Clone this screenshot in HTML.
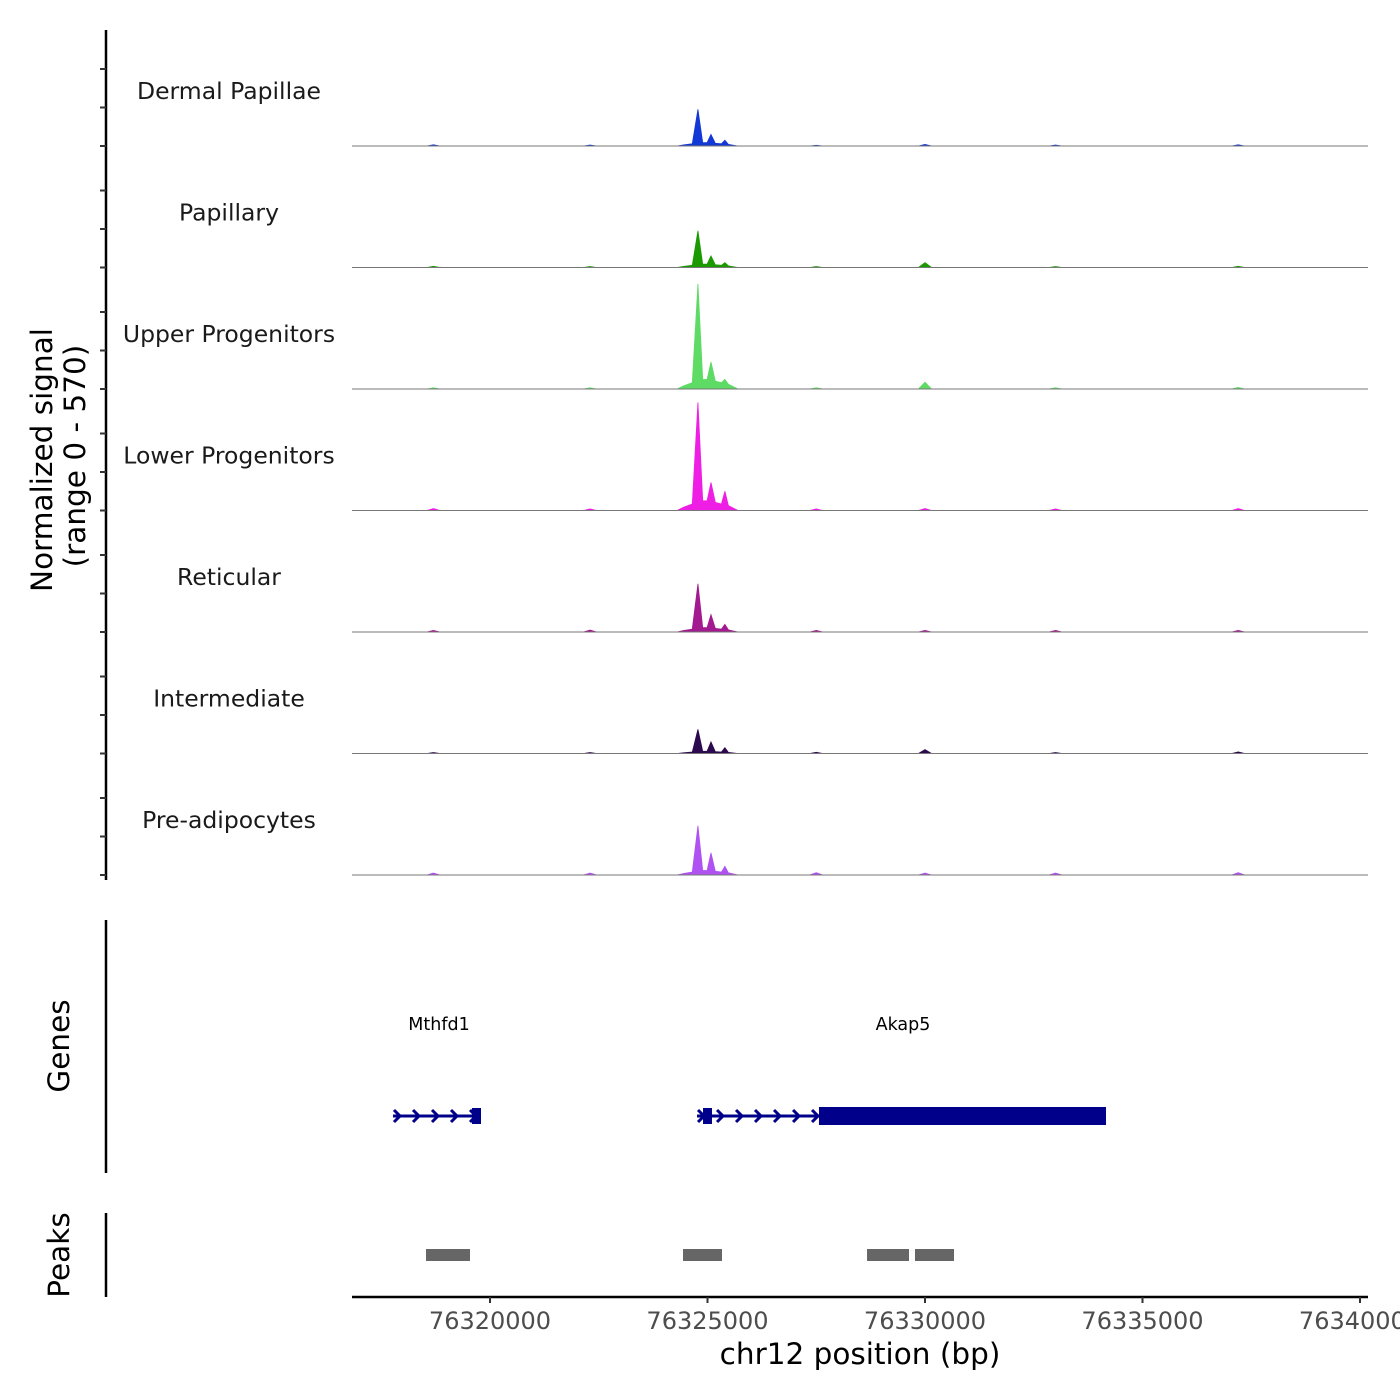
<!DOCTYPE html>
<html><head><meta charset="utf-8"><style>
body{margin:0;background:#fff}
svg{display:block;font-family:"DejaVu Sans","Liberation Sans",sans-serif}
</style></head><body>
<svg id="c" width="1400" height="1400" viewBox="0 0 1400 1400" xmlns="http://www.w3.org/2000/svg"></svg>
<script>
const tracks = ["Dermal Papillae","Papillary","Upper Progenitors","Lower Progenitors","Reticular","Intermediate","Pre-adipocytes"];
const colors = ["#1238d6","#1a9a00","#5ddb64","#ee1ee5","#a3198f","#2d0a4f","#b052f2"];
const peakPos = [76324780,76325080,76325400,76330000,76318700,76322300,76333000,76337200,76327500];
const vals = [
 [190,60,30,8,6,5,5,6,4],
 [190,60,25,25,6,5,5,6,5],
 [545,140,50,35,6,6,6,8,6],
 [560,145,100,10,10,8,8,10,8],
 [250,90,40,8,8,10,8,8,8],
 [125,60,30,20,5,5,5,8,6],
 [255,115,45,10,10,10,10,12,12]
];
const xTicks = [76320000,76325000,76330000,76335000,76340000];
const geneNames = ["Mthfd1","Akap5"];
const geneStart = [76317770,76324759];
const geneEnd = [76319793,76334161];
const exonStart = [76319586,76324897,76327563];
const exonEnd = [76319793,76325103,76334161];
const peakStarts = [76318529,76324437,76328667,76329770];
const peakEnds = [76319540,76325333,76329632,76330667];

const X0=352,X1=1368;
const xs = bp => 490 + (bp-76320000)/5000*217.5;
const base0=146, trackH=121.5, yk=110/570;
const svg=document.getElementById('c');
const NS="http://www.w3.org/2000/svg";
function mk(t,a,p){const e=document.createElementNS(NS,t);for(const k in a)e.setAttribute(k,a[k]);(p||svg).appendChild(e);return e;}

let ax=mk('line',{x1:106,y1:30,x2:106,y2:880,stroke:'#000','stroke-width':2.5});


tracks.forEach((name,i)=>{
  const b=base0+i*trackH;
  [0,38.5,77].forEach(o=>{const t=mk('line',{x1:100,y1:b-o,x2:106,y2:b-o,stroke:'#333','stroke-width':2});
    
    });
  const g=mk('g',{});
  
  
  let d=`M${X0},${b}`;
  const pts=[];
  peakPos.forEach((p,j)=>{pts.push([p,vals[i][j]]);});
  pts.sort((a,b)=>a[0]-b[0]);
  const sh=vals[i][0]*yk*0.03;
  pts.forEach(([p,v])=>{
    if(Math.abs(p-76324780)<10){
      d+=` L${xs(76324300)},${b} L${xs(76324450)},${b-sh} L${xs(p-130)},${b-sh*2} L${xs(p)},${b-v*yk} L${xs(p+110)},${b-sh*3}`;
    } else if(Math.abs(p-76325080)<10){
      d+=` L${xs(p-90)},${b-sh*3} L${xs(p)},${b-v*yk} L${xs(p+100)},${b-sh*2.5}`;
    } else if(Math.abs(p-76325400)<10){
      d+=` L${xs(p-80)},${b-sh*2} L${xs(p)},${b-v*yk} L${xs(p+80)},${b-sh*1.5} L${xs(76325700)},${b}`;
    } else {
      d+=` L${xs(p-150)},${b} L${xs(p)},${b-v*yk} L${xs(p+150)},${b}`;
    }
  });
  d+=` L${X1},${b} Z`;
  const ar=mk('path',{d,fill:colors[i],stroke:colors[i],'stroke-width':0.8},g);
  
  
  const bl=mk('line',{x1:X0,y1:b,x2:X1,y2:b,stroke:'#777','stroke-width':1},g);
  
  
  const lb=mk('text',{x:229,y:b-47,'text-anchor':'middle','font-size':23.5,fill:'#1a1a1a'});
  lb.textContent=name;
  
  
});
const yt=mk('text',{transform:'translate(52,460) rotate(-90)','text-anchor':'middle','font-size':29.5,fill:'#000'});
yt.textContent='Normalized signal';


const yt2=mk('text',{transform:'translate(85,456) rotate(-90)','text-anchor':'middle','font-size':29.5,fill:'#000'});
yt2.textContent='(range 0 - 570)';



const ga=mk('line',{x1:106,y1:920,x2:106,y2:1173,stroke:'#000','stroke-width':2.5});


const gt=mk('text',{transform:'translate(69,1046) rotate(-90)','text-anchor':'middle','font-size':29.5});
gt.textContent='Genes';


const gy=1116;
geneNames.forEach((n,i)=>{
  const g=mk('g',{});
  
  
  mk('line',{x1:xs(geneStart[i]),y1:gy,x2:xs(geneEnd[i]),y2:gy,stroke:'#00008b','stroke-width':3},g);
  for(let x=xs(geneStart[i])+4;x<xs(geneEnd[i])-5;x+=19){
    if(i==1&&x>819)break;
    mk('path',{d:`M${x-3},${gy-6} L${x+3},${gy} L${x-3},${gy+6}`,fill:'none',stroke:'#00008b','stroke-width':3},g);
  }
  const t=mk('text',{x:i==0?439:903,y:1030,'text-anchor':'middle','font-size':17.5},g);
  t.textContent=n;
});
exonStart.forEach((s,i)=>{
  const h=i==2?18:16;
  const r=mk('rect',{x:xs(s),y:gy-h/2,width:xs(exonEnd[i])-xs(s),height:h,fill:'#00008b'});
  
  
});

const pa=mk('line',{x1:106,y1:1213,x2:106,y2:1297,stroke:'#000','stroke-width':2.5});


const pt=mk('text',{transform:'translate(69,1255) rotate(-90)','text-anchor':'middle','font-size':29.5});
pt.textContent='Peaks';


peakStarts.forEach((s,i)=>{
  const r=mk('rect',{x:xs(s),y:1249,width:xs(peakEnds[i])-xs(s),height:12,fill:'#666'});
  
  
});

const xa=mk('line',{x1:X0,y1:1297,x2:X1,y2:1297,stroke:'#000','stroke-width':2.5});


xTicks.forEach(v=>{
  const x=xs(v);
  const tk=mk('line',{x1:x,y1:1297,x2:x,y2:1303,stroke:'#333','stroke-width':2});
  
  
  const t=mk('text',{x,y:1329,'text-anchor':'middle','font-size':24,fill:'#4d4d4d'});
  t.textContent=v;
  
  
});
const xt=mk('text',{x:860,y:1364,'text-anchor':'middle','font-size':29.5});
xt.textContent='chr12 position (bp)';


</script>
</body></html>
